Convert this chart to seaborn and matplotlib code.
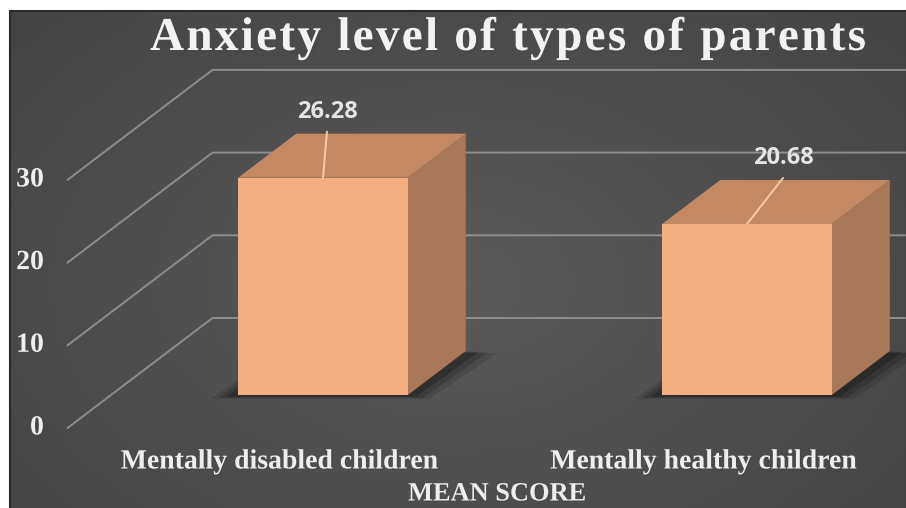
import numpy as np
import matplotlib
matplotlib.use("Agg")
import matplotlib.pyplot as plt
import matplotlib.patheffects as pe
from matplotlib.patches import Polygon, Rectangle
import seaborn as sns
import pandas as pd

# ---- data ----
categories = ["Mentally disabled children", "Mentally healthy children"]
mean_scores = [26.28, 20.68]
y_ticks = [0, 10, 20, 30]
value_labels = ["26.28", "20.68"]
title_text = "Anxiety level of types of parents"
axis_title = "MEAN SCORE"

# ---- style / layout ----
FRONT = "#F3AE82"
TOP = "#C48963"
SIDE = "#A87858"
GRID = "#8e8e8e"
TXT = "#eeeeee"

W, H = 906, 508
# pixel mapping of the bars' front plane
X0_PX, X_UNIT = 323.0, 424.0
Y0_PX, Y_UNIT = 395.0, 8.27
# oblique depth vector for the full floor depth (in data units)
DX_FULL, DY_FULL = 145.0 / X_UNIT, 110.0 / Y_UNIT
FRONT_DEPTH, BAR_DEPTH = -0.3, 0.4   # axis front / bar depth (fractions)

sns.set_theme(style="white")
plt.rcParams["font.family"] = ["Liberation Serif", "DejaVu Serif"]

fig = plt.figure(figsize=(W / 100, H / 100), dpi=100)
fig.patch.set_facecolor("white")

# dark panel with soft radial gradient
ax_bg = fig.add_axes([10 / W, 0, (W - 10) / W, (H - 11) / H])
gx, gy = np.meshgrid(np.linspace(0, 1, 300), np.linspace(0, 1, 200))
r = np.sqrt(((gx - 0.5) / 0.75) ** 2 + ((gy - 0.45) / 0.9) ** 2)
shade = 0.355 - 0.10 * np.clip(r, 0, 1)
ax_bg.imshow(np.dstack([shade] * 3), extent=[0, 1, 0, 1], aspect="auto", origin="lower")
ax_bg.set_axis_off()
fig.patches.append(Rectangle((10 / W, -0.01), (W - 9) / W, (H - 10.5) / H + 0.01,
                             transform=fig.transFigure, fill=False,
                             edgecolor="#2b2b2b", lw=1.5, zorder=5))

ax = fig.add_axes([0, 0, 1, 1], zorder=2)
ax.patch.set_alpha(0)

df = pd.DataFrame({"category": categories, "score": mean_scores})
sns.barplot(data=df, x="category", y="score", color=FRONT, saturation=1,
            width=0.4, edgecolor="none", ax=ax, zorder=4)

xlim = (-X0_PX / X_UNIT, (W - X0_PX) / X_UNIT)
ylim = ((Y0_PX - H) / Y_UNIT, Y0_PX / Y_UNIT)

fdx, fdy = FRONT_DEPTH * DX_FULL, FRONT_DEPTH * DY_FULL
bdx, bdy = (FRONT_DEPTH + 1) * DX_FULL, (FRONT_DEPTH + 1) * DY_FULL
left = -0.5

shadow_fx = [pe.withSimplePatchShadow(offset=(1, -1), alpha=0.5)]

# back wall / floor gridlines
for v in y_ticks:
    ax.plot([left + fdx, left + bdx, xlim[1] + 1], [v + fdy, v + bdy, v + bdy],
            color=GRID, lw=1.4, zorder=1, solid_capstyle="round")
    ax.text(left + fdx - 0.056, v + fdy, str(v), ha="right", va="center",
            fontsize=20, fontweight="bold", color=TXT, zorder=6,
            path_effects=shadow_fx)

# 3D faces for each bar
ddx, ddy = BAR_DEPTH * DX_FULL, BAR_DEPTH * DY_FULL
for p in ax.patches[:len(mean_scores)]:
    x, w, h = p.get_x(), p.get_width(), p.get_height()
    for k, a in zip([0.05, 0.035, 0.02], [0.12, 0.16, 0.22]):
        ax.add_patch(Polygon([(x - k * 1.3, -k * 10), (x + w + k, -k * 10),
                              (x + w + ddx + k * 1.5, ddy - k * 5),
                              (x + ddx - k, ddy - k * 5)],
                             closed=True, facecolor="black", alpha=a,
                             edgecolor="none", zorder=2))
    ax.add_patch(Polygon([(x + w, 0), (x + w + ddx, ddy), (x + w + ddx, h + ddy), (x + w, h)],
                         closed=True, facecolor=SIDE, edgecolor="none", zorder=3))
    ax.add_patch(Polygon([(x, h), (x + w, h), (x + w + ddx, h + ddy), (x + ddx, h + ddy)],
                         closed=True, facecolor=TOP, edgecolor="none", zorder=3))

# data labels with leader lines
label_shift = [0.0094, 0.085]
for i, (v, lab) in enumerate(zip(mean_scores, value_labels)):
    sx, sy = i + label_shift[i], v + ddy + 0.25
    ax.plot([i, sx], [v, sy], color="#f6caa9", lw=1.4, zorder=5)
    ax.text(sx, sy + 2.4, lab, ha="center", va="center", fontsize=17,
            fontweight="bold", color="#e4e4e4", family=["Open Sans", "DejaVu Sans"], zorder=6)

# category labels at the axis front
for i, c in enumerate(categories):
    ax.text(i + fdx, (Y0_PX - 462) / Y_UNIT, c, ha="center", va="center",
            fontsize=20, fontweight="bold", color=TXT, zorder=6,
            path_effects=shadow_fx)

ax.set_xlim(*xlim)
ax.set_ylim(*ylim)
ax.set_axis_off()

# letter-spaced title (characters laid out one by one)
renderer = fig.canvas.get_renderer()
title_left, title_right, title_base = 150.0, 866.0, 50.0
chars = list(title_text)
tmp = [fig.text(0, 0, ch if ch != " " else "n", fontsize=34, fontweight="bold")
       for ch in chars]
widths = []
for ch, t in zip(chars, tmp):
    wpx = t.get_window_extent(renderer).width
    widths.append(wpx * (0.45 if ch == " " else 1.0))
    t.remove()
gap = (title_right - title_left - sum(widths)) / (len(chars) - 1)
xc = title_left
for ch, wpx in zip(chars, widths):
    if ch != " ":
        fig.text(xc / W, 1 - title_base / H, ch, ha="left", va="baseline",
                 fontsize=34, fontweight="bold", color="#f2f2f2", zorder=6,
                 path_effects=[pe.withSimplePatchShadow(offset=(2, -2), alpha=0.6)])
    xc += wpx + gap

fig.text(497 / W, 1 - 494 / H, axis_title, ha="center", va="center", fontsize=19,
         fontweight="bold", color=TXT, zorder=6, path_effects=shadow_fx)

fig.savefig("out.png", dpi=100)
